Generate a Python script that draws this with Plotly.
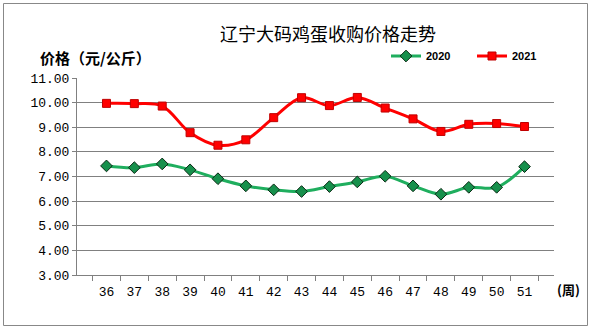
import plotly.graph_objects as go

weeks = [str(w) for w in range(36, 52)]
price_2020 = [7.43, 7.36, 7.51, 7.27, 6.91, 6.62, 6.46, 6.39, 6.59, 6.78, 7.01, 6.62, 6.28, 6.56, 6.56, 7.40]
price_2021 = [9.97, 9.96, 9.86, 8.78, 8.27, 8.49, 9.39, 10.20, 9.88, 10.21, 9.78, 9.34, 8.83, 9.12, 9.15, 9.03]
y_ticks = [3, 4, 5, 6, 7, 8, 9, 10, 11]

L, R, T, B = 77, 40, 78, 53
W, H = 594, 328
PW, PH = W - L - R, H - T - B

def px(x):
    return (x - L) / PW

def py(y):
    return (H - B - y) / PH

fig = go.Figure()
fig.add_trace(go.Scatter(
    x=weeks, y=price_2020, name="<b>2020</b>", mode="lines+markers",
    line=dict(color="#1fae5e", width=3, shape="spline", smoothing=1),
    marker=dict(symbol="diamond", size=9, color="#17904c", line=dict(color="#0a2a14", width=1)),
))
fig.add_trace(go.Scatter(
    x=weeks, y=price_2021, name="<b>2021</b>", mode="lines+markers",
    line=dict(color="#ff0000", width=3, shape="spline", smoothing=1),
    marker=dict(symbol="square", size=8, color="#ff0000", line=dict(color="#c00000", width=1)),
))

fig.update_layout(
    width=W, height=H,
    margin=dict(l=L, r=R, t=T, b=B),
    paper_bgcolor="white", plot_bgcolor="white",
    font=dict(family="Liberation Mono", size=12, color="black"),
    showlegend=True,
    legend=dict(orientation="h", x=px(386), y=py(56), xanchor="left", yanchor="middle",
                font=dict(family="Liberation Sans", size=11, color="black"),
                entrywidth=41, entrywidthmode="pixels",
                bgcolor="rgba(0,0,0,0)", tracegroupgap=0, traceorder="normal"),
    xaxis=dict(type="category", tickson="boundaries", ticks="outside", ticklen=5,
               tickcolor="#808080", showline=True, linecolor="#808080", linewidth=1,
               showgrid=False, ticklabelstandoff=4,
               tickfont=dict(family="Liberation Mono", size=13)),
    yaxis=dict(range=[3, 11], tickvals=y_ticks, tickformat=".2f", ticks="outside", ticklen=4,
               tickcolor="#808080", showline=True, linecolor="#808080", linewidth=1,
               showgrid=True, gridcolor="#808080", gridwidth=1, zeroline=False,
               tickfont=dict(family="Liberation Mono", size=13)),
    shapes=[dict(type="rect", xref="paper", yref="paper",
                 x0=px(3.5), x1=px(587.5), y0=py(325.5), y1=py(3.5),
                 line=dict(color="#888888", width=1))],
    annotations=[
        dict(text="辽宁大码鸡蛋收购价格走势", xref="paper", yref="paper", x=px(328), y=py(33),
             xanchor="center", yanchor="middle",
             showarrow=False, font=dict(family="Noto Sans CJK SC", size=18, color="black")),
        dict(text="<b>价格（元/公斤）</b>", xref="paper", yref="paper", x=px(38), y=py(57),
             xanchor="left", yanchor="middle", showarrow=False,
             font=dict(family="Noto Sans CJK SC", size=15, color="black")),
        dict(text="<b>(周)</b>", xref="paper", yref="paper", x=px(555), y=py(289),
             xanchor="left", yanchor="middle", showarrow=False,
             font=dict(family="Noto Sans CJK SC", size=13, color="black")),
    ],
)

fig.write_html("out.html")
